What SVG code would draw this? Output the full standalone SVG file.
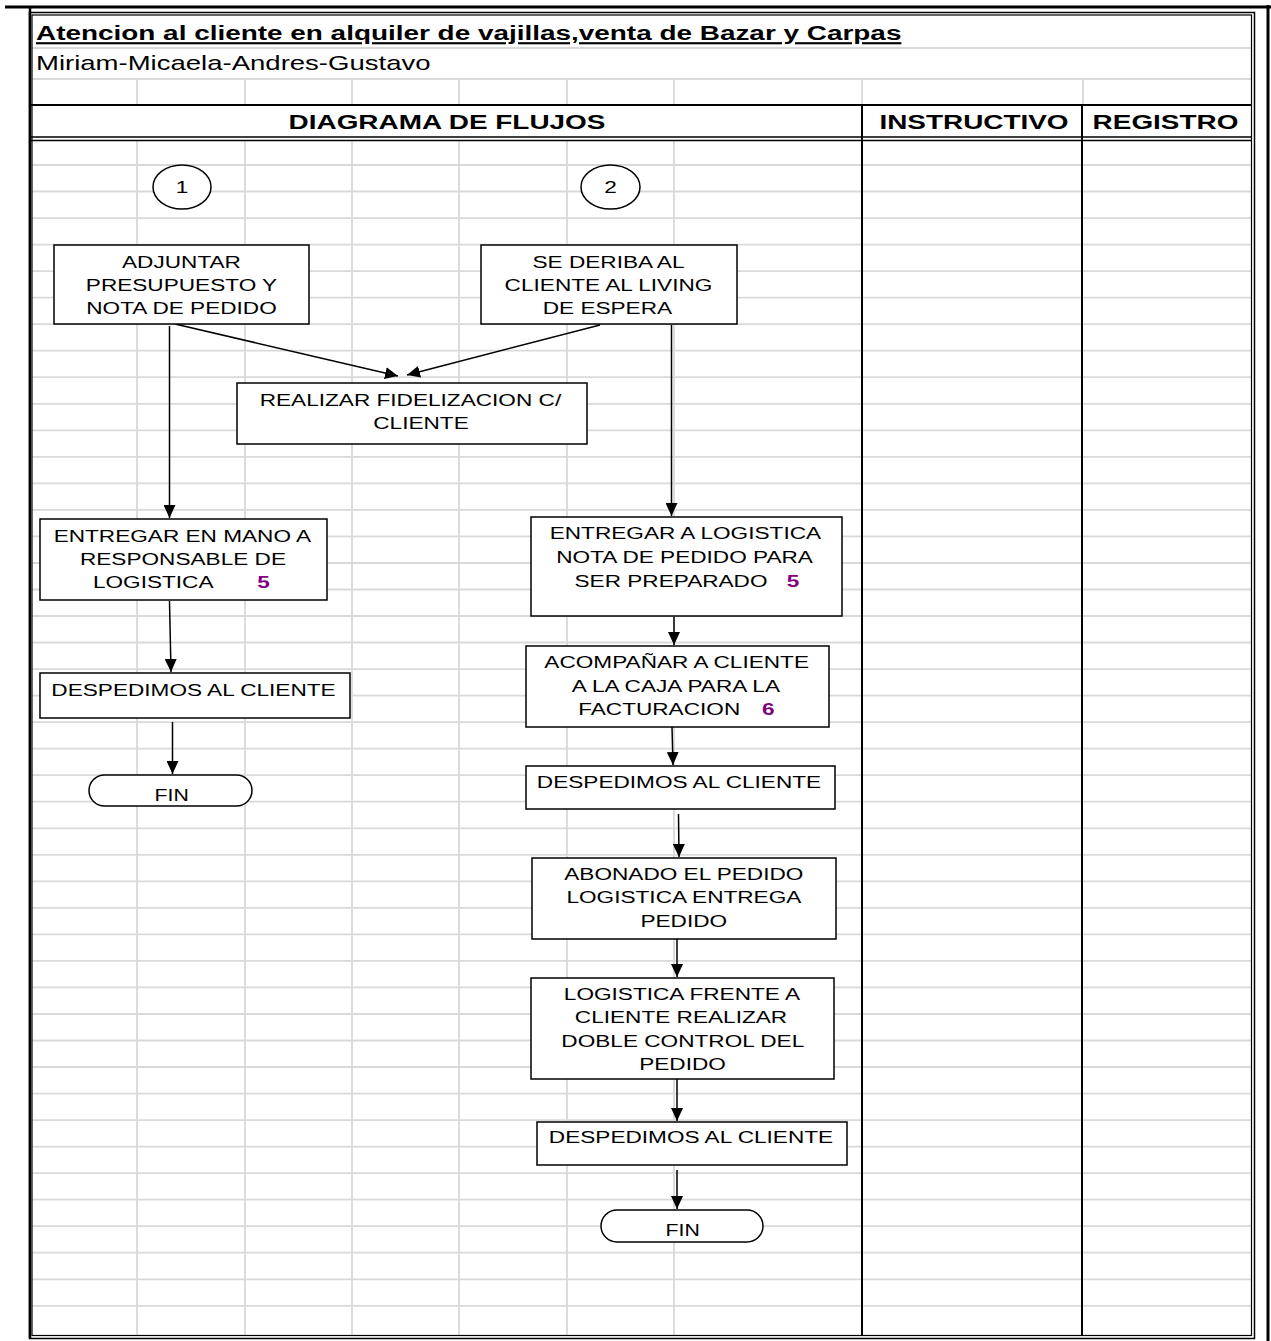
<svg xmlns="http://www.w3.org/2000/svg" width="1271" height="1341" viewBox="0 0 1271 1341">
  <style>
    .grid { stroke: #d9d9d9; stroke-width: 1.8; fill: none; }
    .rule { stroke: #000; fill: none; }
    .box { fill: #fff; stroke: #000; stroke-width: 1.5; }
    .conn { stroke: #000; stroke-width: 1.5; fill: none; marker-end: url(#arrow); }
    .t { font-family: "Liberation Sans", Arial, sans-serif; font-size: 17px; text-anchor: middle; fill: #000;
         transform-box: fill-box; transform-origin: center; transform: scaleX(1.33); }
    .num { font-weight: bold; fill: #800080; }
    .hd { font-size: 21px; font-weight: bold; }
    .left { text-anchor: start; transform-origin: left center; }
  </style>
  <defs>
    <marker id="arrow" markerUnits="userSpaceOnUse" markerWidth="13" markerHeight="12" viewBox="0 0 13 12" refX="13" refY="6" orient="auto">
      <path d="M0,0 L13,6 L0,12 z" fill="#000"/>
    </marker>
  </defs>

  <rect width="1271" height="1341" fill="#fff"/>

  <!-- sheet grid -->
  <g id="grid">
    <path class="grid" d="M32 48H1251 M32 79H1251"/>
    <path class="grid" d="M137 79V105 M245 79V105 M352 79V105 M459 79V105 M567 79V105 M674 79V105 M862 79V105 M1083 79V105"/>
    <path class="grid" d="M137 141V1335 M245 141V1335 M352 141V1335 M459 141V1335 M567 141V1335 M674 141V1335"/>
    <path class="grid" d="M32 165H1251 M32 191.5H1251 M32 218.1H1251 M32 244.6H1251 M32 271.1H1251 M32 297.7H1251 M32 324.2H1251 M32 350.7H1251 M32 377.2H1251 M32 403.8H1251 M32 430.3H1251 M32 456.8H1251 M32 483.4H1251 M32 509.9H1251 M32 536.4H1251 M32 563H1251 M32 589.5H1251 M32 616H1251 M32 642.5H1251 M32 669.1H1251 M32 695.6H1251 M32 722.1H1251 M32 748.7H1251 M32 775.2H1251 M32 801.7H1251 M32 828.3H1251 M32 854.8H1251 M32 881.3H1251 M32 907.8H1251 M32 934.4H1251 M32 960.9H1251 M32 987.4H1251 M32 1014H1251 M32 1040.5H1251 M32 1067H1251 M32 1093.6H1251 M32 1120.1H1251 M32 1146.6H1251 M32 1173.1H1251 M32 1199.7H1251 M32 1226.2H1251 M32 1252.7H1251 M32 1279.3H1251 M32 1305.8H1251"/>
  </g>

  <!-- page frame and table rules -->
  <g id="frame">
    <path class="rule" stroke-width="3" d="M5 7H1271 M1268 5V1341"/>
    <rect class="rule" x="29.5" y="12.5" width="1225" height="1326" stroke-width="1.5"/>
    <rect class="rule" x="32" y="15" width="1219.5" height="1320.5" stroke-width="1.2"/>
    <path class="rule" stroke-width="2.5" d="M30 8V1338"/>
    <path class="rule" stroke-width="2" d="M31 105H1251"/>
    <path class="rule" stroke-width="1.6" d="M31 137H1251 M31 140.5H1251"/>
    <path class="rule" stroke-width="2" d="M862 105V1335 M1082 105V1335"/>
  </g>

  <!-- header -->
  <g id="header">
    <text class="t hd left" x="36" y="40.5" text-decoration="underline">Atencion al cliente en alquiler de vajillas,venta de Bazar y Carpas</text>
    <text class="t left" x="36" y="70" style="font-size:20.7px">Miriam-Micaela-Andres-Gustavo</text>
    <text class="t hd" x="447" y="129.5">DIAGRAMA DE FLUJOS</text>
    <text class="t hd" x="974" y="129.5">INSTRUCTIVO</text>
    <text class="t hd" x="1165.5" y="129.5">REGISTRO</text>
  </g>

  <!-- connectors -->
  <g id="connectors">
    <line class="conn" x1="175" y1="324" x2="398" y2="376"/>
    <line class="conn" x1="600" y1="325" x2="407" y2="375"/>
    <line class="conn" x1="169.5" y1="326" x2="169.5" y2="518"/>
    <line class="conn" x1="169.5" y1="601" x2="171" y2="672"/>
    <line class="conn" x1="172.5" y1="722" x2="172.5" y2="774"/>
    <line class="conn" x1="671.5" y1="325" x2="671.5" y2="516"/>
    <line class="conn" x1="674" y1="617" x2="674" y2="645"/>
    <line class="conn" x1="672" y1="727" x2="673" y2="765"/>
    <line class="conn" x1="678.5" y1="814" x2="679" y2="857"/>
    <line class="conn" x1="677" y1="939" x2="677" y2="977"/>
    <line class="conn" x1="677" y1="1079" x2="677" y2="1121"/>
    <line class="conn" x1="677" y1="1170" x2="677" y2="1209"/>
  </g>

  <!-- start connectors -->
  <g id="start-1">
    <ellipse class="box" cx="182" cy="187" rx="29" ry="22"/>
    <text class="t" x="182" y="193">1</text>
  </g>
  <g id="start-2">
    <ellipse class="box" cx="610.5" cy="187" rx="29.5" ry="22"/>
    <text class="t" x="610.5" y="193">2</text>
  </g>

  <!-- left branch -->
  <g id="adjuntar">
    <rect class="box" x="54" y="245" width="255" height="79"/>
    <text class="t" x="181.5" y="267.7">ADJUNTAR</text>
    <text class="t" x="181.5" y="291">PRESUPUESTO Y</text>
    <text class="t" x="181.5" y="314.3">NOTA DE PEDIDO</text>
  </g>
  <g id="entregar-mano">
    <rect class="box" x="40" y="519" width="287" height="81"/>
    <text class="t" x="182.5" y="542">ENTREGAR EN MANO A</text>
    <text class="t" x="183" y="565.3">RESPONSABLE DE</text>
    <text class="t" x="153.3" y="587.7">LOGISTICA</text>
    <text class="t num" x="263.5" y="587.7">5</text>
  </g>
  <g id="despedir-1">
    <rect class="box" x="40" y="673" width="310" height="45"/>
    <text class="t" x="193.5" y="696">DESPEDIMOS AL CLIENTE</text>
  </g>
  <g id="fin-1">
    <rect class="box" x="89" y="775" width="163" height="31" rx="15.5"/>
    <text class="t" x="171.7" y="801" style="font-size:16px">FIN</text>
  </g>

  <!-- shared step -->
  <g id="fidelizacion">
    <rect class="box" x="237" y="383" width="350" height="61"/>
    <text class="t" x="410.5" y="406">REALIZAR FIDELIZACION C/</text>
    <text class="t" x="421" y="429.3">CLIENTE</text>
  </g>

  <!-- right branch -->
  <g id="living">
    <rect class="box" x="481" y="245" width="256" height="79"/>
    <text class="t" x="608.5" y="267.7">SE DERIBA AL</text>
    <text class="t" x="608.5" y="291">CLIENTE AL LIVING</text>
    <text class="t" x="607.5" y="314.3">DE ESPERA</text>
  </g>
  <g id="entregar-logistica">
    <rect class="box" x="531" y="517" width="311" height="99"/>
    <text class="t" x="685.5" y="539.3">ENTREGAR A LOGISTICA</text>
    <text class="t" x="684.7" y="563.3">NOTA DE PEDIDO PARA</text>
    <text class="t" x="671" y="587">SER PREPARADO</text>
    <text class="t num" x="793" y="587">5</text>
  </g>
  <g id="acompanar">
    <rect class="box" x="526" y="646" width="303" height="81"/>
    <text class="t" x="676.7" y="668.3">ACOMPAÑAR A CLIENTE</text>
    <text class="t" x="676" y="691.7">A LA CAJA PARA LA</text>
    <text class="t" x="659.2" y="715">FACTURACION</text>
    <text class="t num" x="768.3" y="715">6</text>
  </g>
  <g id="despedir-2">
    <rect class="box" x="526" y="766" width="309" height="43"/>
    <text class="t" x="679" y="788.3">DESPEDIMOS AL CLIENTE</text>
  </g>
  <g id="abonado">
    <rect class="box" x="532" y="858" width="304" height="81"/>
    <text class="t" x="683.8" y="880">ABONADO EL PEDIDO</text>
    <text class="t" x="684" y="903.3">LOGISTICA ENTREGA</text>
    <text class="t" x="683.8" y="926.7">PEDIDO</text>
  </g>
  <g id="doble-control">
    <rect class="box" x="531" y="978" width="303" height="101"/>
    <text class="t" x="682" y="1000">LOGISTICA FRENTE A</text>
    <text class="t" x="681" y="1023.3">CLIENTE REALIZAR</text>
    <text class="t" x="682.8" y="1046.7">DOBLE CONTROL DEL</text>
    <text class="t" x="682.5" y="1070.5">PEDIDO</text>
  </g>
  <g id="despedir-3">
    <rect class="box" x="537" y="1122" width="310" height="43"/>
    <text class="t" x="691" y="1143.3">DESPEDIMOS AL CLIENTE</text>
  </g>
  <g id="fin-2">
    <rect class="box" x="601" y="1210" width="162" height="32" rx="16"/>
    <text class="t" x="682.7" y="1236" style="font-size:16px">FIN</text>
  </g>
</svg>
